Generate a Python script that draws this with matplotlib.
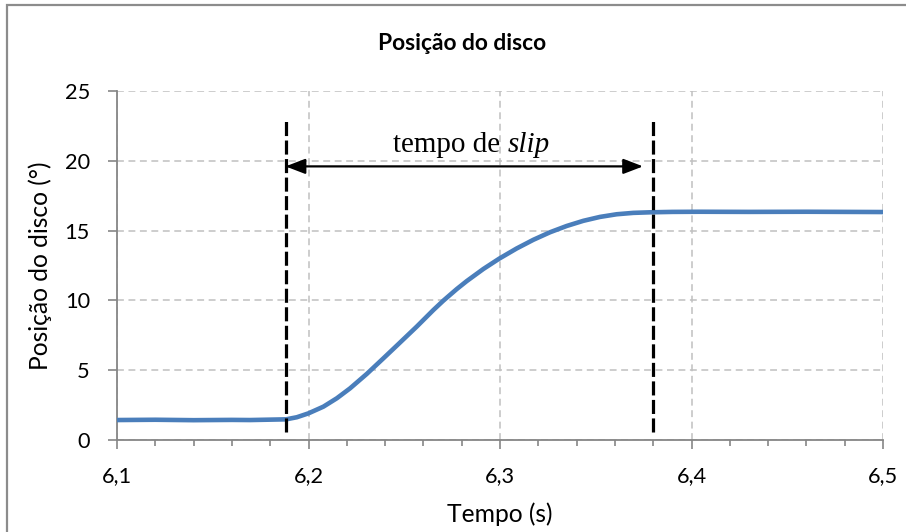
import matplotlib
matplotlib.use("Agg")
import matplotlib.pyplot as plt
from matplotlib.patches import Rectangle
from matplotlib.ticker import MultipleLocator, FuncFormatter

# disc angular position (deg) vs time (s)
tempo = [6.100, 6.120, 6.140, 6.160, 6.1695, 6.1883, 6.1939, 6.2000, 6.2078,
         6.2148, 6.2217, 6.2304, 6.2391, 6.2461, 6.2565, 6.2652, 6.2704, 6.2774,
         6.2826, 6.2913, 6.2997, 6.3087, 6.3174, 6.3261, 6.3348, 6.3435, 6.3522,
         6.3609, 6.3696, 6.3783, 6.3900, 6.4044, 6.430, 6.460, 6.500]
posicao = [1.43, 1.45, 1.42, 1.44, 1.43, 1.48, 1.63, 1.91, 2.39,
           2.99, 3.70, 4.73, 5.85, 6.76, 8.12, 9.31, 9.98, 10.81,
           11.38, 12.25, 13.00, 13.72, 14.34, 14.88, 15.33, 15.70, 15.98,
           16.17, 16.27, 16.31, 16.34, 16.35, 16.34, 16.35, 16.33]

slip_ini, slip_fim = 6.188, 6.380     # start / end of slip interval (dashed markers)
seta_fim = 6.3747                     # right tip of the arrow
marca_y = (0.6, 23.1)                 # vertical extent of the dashed markers
seta_y = 19.6
texto_y = 20.65
texto_x = 6.2851
x_ticks = [6.1, 6.2, 6.3, 6.4, 6.5]
y_ticks = [0, 5, 10, 15, 20, 25]

FONT = "Lato"
AXCOL = "#868686"
fig = plt.figure(figsize=(9.06, 5.32), dpi=100)
ax = fig.add_axes([117/906, 1-440/532, (883-117)/906, (440-91)/532])

# chart-area frame
fig.patches.append(Rectangle((7/906, -0.05), 1.0, 1-5/532+0.05, transform=fig.transFigure,
                             fill=False, ec="#8c8c8c", lw=1.6, zorder=0))

ax.plot(tempo, posicao, color="#4a7ebb", lw=3.3, solid_capstyle="round",
        solid_joinstyle="round", zorder=3)

for xv in (slip_ini, slip_fim):
    ax.plot([xv, xv], marca_y, color="black", lw=2.3, dashes=(4.4, 1.4), zorder=4)

ax.annotate("", xy=(slip_ini, seta_y), xytext=(seta_fim, seta_y),
            arrowprops=dict(arrowstyle="<|-|>,head_length=0.6,head_width=0.23",
                            color="black", lw=1.6, mutation_scale=20,
                            shrinkA=0, shrinkB=0), zorder=5)

ax.set_xlim(6.1, 6.5)
ax.set_ylim(0, 25)
ax.set_xticks(x_ticks)
ax.set_yticks(y_ticks)
ax.xaxis.set_minor_locator(MultipleLocator(0.02))
ax.xaxis.set_major_formatter(FuncFormatter(lambda v, p: f"{v:.1f}".replace(".", ",")))

# "tempo de slip" with the English word in italics, centred as one string
t1 = ax.text(texto_x, texto_y, "tempo de ", ha="left", va="baseline",
             family="Liberation Serif", fontsize=21)
t2 = ax.text(texto_x, texto_y, "slip", ha="left", va="baseline",
             family="Liberation Serif", fontsize=21, style="italic")
r = fig.canvas.get_renderer()
w1 = t1.get_window_extent(r).width
w2 = t2.get_window_extent(r).width
x0 = ax.transData.transform((texto_x, texto_y))[0] - (w1 + w2) / 2
inv = ax.transData.inverted()
t1.set_x(inv.transform((x0, 0))[0])
t2.set_x(inv.transform((x0 + w1, 0))[0])

ax.grid(True, which="major", color="#c0c0c0", lw=1.1, dashes=(4.5, 3))
ax.set_axisbelow(True)
for s in ("top", "right"):
    ax.spines[s].set_visible(False)
for s in ("left", "bottom"):
    ax.spines[s].set_color(AXCOL)
    ax.spines[s].set_linewidth(1.3)
ax.tick_params(axis="both", which="major", color=AXCOL, width=1.2, length=6.5,
               labelsize=15.7)
ax.tick_params(axis="x", which="minor", color=AXCOL, width=1.2, length=4.5)
ax.tick_params(axis="y", which="major", pad=13)
ax.tick_params(axis="x", which="major", pad=12)
for lbl in ax.get_xticklabels() + ax.get_yticklabels():
    lbl.set_family(FONT)

ax.set_xlabel("Tempo (s)", family=FONT, fontsize=17.7)
ax.set_ylabel("Posição do disco (°)", family=FONT, fontsize=17.7)
ax.xaxis.set_label_coords(0.5, (440-514)/349)
ax.xaxis.label.set_va("center")
ax.yaxis.set_label_coords((40.5-117)/766, 0.5)
ax.yaxis.label.set_va("center")
fig.text(462/906, 1-43/532, "Posição do disco", ha="center", va="center",
         family=FONT, fontsize=16.4, fontweight="bold")

fig.savefig("out.png", dpi=100)
